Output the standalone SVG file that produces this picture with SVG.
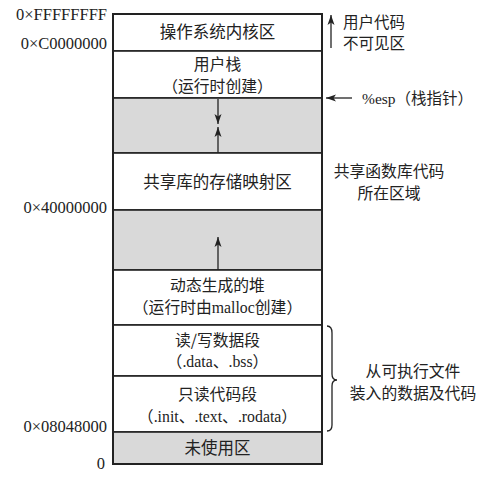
<svg xmlns="http://www.w3.org/2000/svg" width="496" height="479" viewBox="0 0 496 479">
<style>
.seg{fill:#fff;stroke:#222;stroke-width:1.6}
.gray{fill:#d9d9d9;stroke:#222;stroke-width:1.6}
.t{font-family:"Noto Sans CJK SC","Liberation Serif",serif;font-size:16.5px;fill:#222;text-anchor:middle}
.t2{font-family:"Noto Sans CJK SC","Liberation Serif",serif;font-size:15.8px;fill:#222;text-anchor:middle}
.ts{font-family:"Liberation Serif","Noto Sans CJK SC",serif;font-size:15.8px;fill:#222;text-anchor:middle}
.lt{font-family:"Liberation Serif","Noto Sans CJK SC",serif;font-size:15.5px;fill:#222}
.addr{font-family:"Liberation Serif",serif;font-size:16.5px;fill:#222;text-anchor:end}
.ln{stroke:#222;stroke-width:1.3;fill:none}
</style>
<defs>
<marker id="ah" viewBox="0 0 10 10" refX="10" refY="5" markerWidth="10" markerHeight="10" markerUnits="userSpaceOnUse" orient="auto">
<path d="M0,1.5 L10,5 L0,8.5 L2.5,5 Z" fill="#222"/>
</marker>
</defs>
<g id="kernel"><rect class="seg" x="113" y="14" width="209" height="37"/><text class="t" x="217.5" y="38">操作系统内核区</text></g>
<g id="userstack"><rect class="seg" x="113" y="51" width="209" height="47"/><text class="t2" x="217.5" y="70">用户栈</text><text class="t2" x="217.5" y="92">（运行时创建）</text></g>
<g id="gap1"><rect class="gray" x="113" y="98" width="209" height="55"/></g>
<g id="shared"><rect class="seg" x="113" y="153" width="209" height="57"/><text class="t" x="217.5" y="188">共享库的存储映射区</text></g>
<g id="gap2"><rect class="gray" x="113" y="210" width="209" height="60"/></g>
<g id="heap"><rect class="seg" x="113" y="270" width="209" height="55"/><text class="t2" x="217.5" y="291">动态生成的堆</text><text class="ts" x="217.5" y="313">（运行时由malloc创建）</text></g>
<g id="rwdata"><rect class="seg" x="113" y="325" width="209" height="51"/><text class="t2" x="217.5" y="346">读/写数据段</text><text class="ts" x="217.5" y="367">（.data、.bss）</text></g>
<g id="rocode"><rect class="seg" x="113" y="376" width="209" height="56"/><text class="t2" x="217.5" y="400">只读代码段</text><text class="ts" x="217.5" y="422">（.init、.text、.rodata）</text></g>
<g id="unused"><rect class="gray" x="113" y="432" width="209" height="32"/><text class="t" x="217.5" y="454">未使用区</text></g>
<rect x="113" y="14" width="209" height="450" fill="none" stroke="#222" stroke-width="2"/>
<g id="addresses">
<text class="addr" x="107" y="20">0×FFFFFFFF</text>
<text class="addr" x="107" y="49">0×C0000000</text>
<text class="addr" x="107" y="213">0×40000000</text>
<text class="addr" x="107" y="432">0×08048000</text>
<text class="addr" x="105" y="469">0</text>
</g>
<g id="connectors">
<line class="ln" x1="218" y1="99" x2="218" y2="124" marker-end="url(#ah)"/>
<line class="ln" x1="218" y1="153" x2="218" y2="127" marker-end="url(#ah)"/>
<line class="ln" x1="218" y1="270" x2="218" y2="237" marker-end="url(#ah)"/>
<line class="ln" x1="331" y1="48" x2="331" y2="15" marker-end="url(#ah)"/>
<line class="ln" x1="352" y1="98" x2="326" y2="98" marker-end="url(#ah)"/>
<path class="ln" d="M327,326 Q332,326 332,333 L332,374 Q332,380 337,380 Q332,380 332,386 L332,425 Q332,431 327,431"/>
</g>
<g id="labels">
<text class="lt" x="343" y="28">用户代码</text>
<text class="lt" x="343" y="49">不可见区</text>
<text class="lt" x="362" y="104">%esp（栈指针）</text>
<text class="t2" x="389" y="177">共享函数库代码</text>
<text class="t2" x="389" y="199">所在区域</text>
<text class="t2" x="413" y="377">从可执行文件</text>
<text class="t2" x="413" y="399">装入的数据及代码</text>
</g>
</svg>
